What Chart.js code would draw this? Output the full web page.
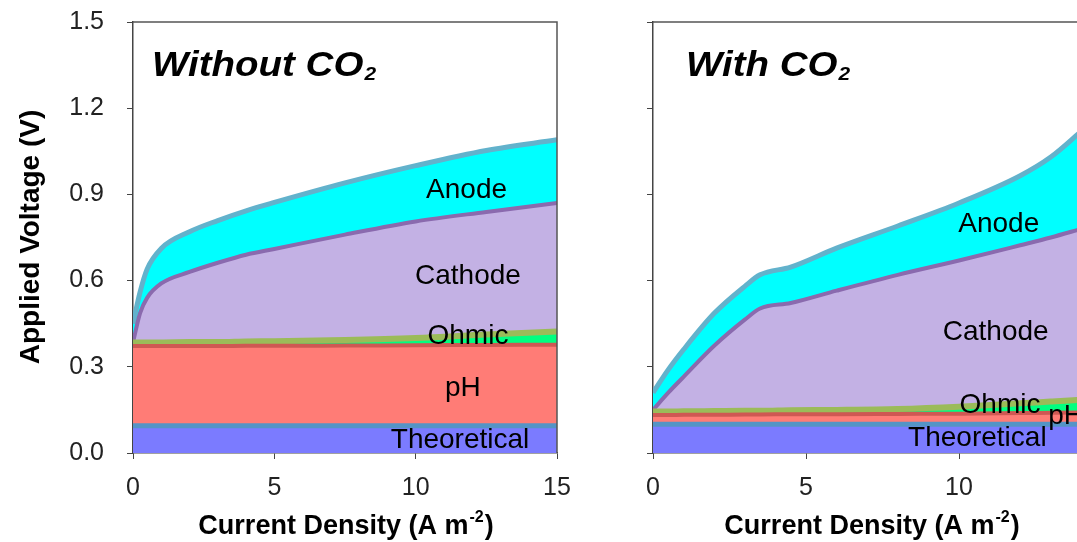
<!DOCTYPE html>
<html>
<head>
<meta charset="utf-8">
<script src="https://cdn.jsdelivr.net/npm/chart.js@4.4.1/dist/chart.umd.min.js"></script>
<style>
  html, body { margin: 0; padding: 0; background: #fff; overflow: hidden; width: 1077px; height: 542px; }
  #left { position: absolute; left: 0; top: 0; width: 580px; height: 542px; }
  #right { position: absolute; left: 600px; top: 0; width: 600px; height: 542px; }
</style>
</head>
<body>
<div id="left"><canvas id="chartLeft"></canvas></div>
<div id="right"><canvas id="chartRight"></canvas></div>
<script>
// Stacked voltage components (V) vs current density (A m-2)
const seriesNames = ["Theoretical", "pH", "Ohmic", "Cathode", "Anode"];

// Without CO2
const noCo2X = [0, 0.25, 0.5, 1, 2, 3, 4, 5, 7.5, 10, 12.5, 15];
const noCo2Theoretical = [0.095, 0.095, 0.095, 0.095, 0.095, 0.095, 0.095, 0.095, 0.095, 0.095, 0.095, 0.095];
const noCo2PH = [0.277, 0.277, 0.277, 0.277, 0.277, 0.277, 0.278, 0.278, 0.279, 0.28, 0.281, 0.282];
const noCo2Ohmic = [0.013, 0.013, 0.013, 0.013, 0.014, 0.014, 0.015, 0.016, 0.019, 0.025, 0.036, 0.046];
const noCo2Cathode = [0, 0.102, 0.155, 0.205, 0.244, 0.276, 0.302, 0.321, 0.367, 0.406, 0.427, 0.447];
const noCo2Anode = [0.065, 0.073, 0.1, 0.122, 0.14, 0.147, 0.153, 0.162, 0.18, 0.194, 0.214, 0.22];

// With CO2
const co2X = [0, 0.5, 1, 2, 3, 3.5, 4.5, 6, 8, 10, 12, 13, 14, 15];
const co2Theoretical = [0.1, 0.1, 0.1, 0.1, 0.1, 0.1, 0.1, 0.1, 0.1, 0.1, 0.1, 0.1, 0.1, 0.1];
const co2PH = [0.032, 0.032, 0.033, 0.033, 0.034, 0.034, 0.035, 0.035, 0.036, 0.037, 0.039, 0.04, 0.041, 0.042];
const co2Ohmic = [0.012, 0.012, 0.012, 0.013, 0.013, 0.013, 0.014, 0.015, 0.017, 0.024, 0.034, 0.039, 0.044, 0.049];
const co2Cathode = [0.006, 0.066, 0.12, 0.227, 0.317, 0.356, 0.373, 0.415, 0.467, 0.509, 0.55, 0.571, 0.595, 0.619];
const co2Anode = [0.06, 0.08, 0.095, 0.113, 0.116, 0.117, 0.125, 0.148, 0.17, 0.2, 0.242, 0.28, 0.34, 0.4];

const xTicks = [0, 5, 10, 15];
const yTicks = [0, 0.3, 0.6, 0.9, 1.2, 1.5];

const fillColors = ["#7b7bff", "#ff7c76", "#00ff80", "#c3b1e4", "#00ffff"];
const lineColors = ["#5494c6", "#cf5853", "#9bbb59", "#8a6aae", "#62b2cc"];
const lineWidths = [5, 4, 6, 4, 5];
const FONT = "'Liberation Sans', Arial, Helvetica, sans-serif";

function buildDatasets(xs, columns) {
  return columns.map((vals, i) => ({
    label: seriesNames[i],
    data: xs.map((x, j) => ({ x, y: vals[j] })),
    fill: i === 0 ? "origin" : "-1",
    backgroundColor: fillColors[i],
    borderColor: lineColors[i],
    borderWidth: lineWidths[i],
    pointRadius: 0,
    cubicInterpolationMode: "monotone",
  }));
}

const panelTextPlugin = {
  id: "panelText",
  afterDraw(chart, args, opts) {
    const { ctx, chartArea: area, scales } = chart;
    ctx.save();

    // top and right edges of the plot frame
    ctx.strokeStyle = "#555";
    ctx.lineWidth = 1.5;
    ctx.beginPath();
    ctx.moveTo(area.left, area.top);
    ctx.lineTo(area.right, area.top);
    ctx.lineTo(area.right, area.bottom);
    ctx.stroke();

    // panel title with subscript 2 (slightly widened like the original)
    ctx.fillStyle = "#000";
    ctx.textAlign = "left";
    ctx.textBaseline = "alphabetic";
    ctx.save();
    ctx.translate(area.left + opts.titleDx, 76);
    ctx.scale(1.1, 1);
    ctx.font = `italic bold 35px ${FONT}`;
    ctx.fillText(opts.title, 0, 0);
    const tw = ctx.measureText(opts.title).width;
    ctx.font = `italic bold 19px ${FONT}`;
    ctx.fillText("2", tw + 1, 4);
    ctx.restore();

    // labels inside the stacked areas
    ctx.font = `28px ${FONT}`;
    ctx.textAlign = "center";
    ctx.textBaseline = "middle";
    opts.labels.forEach((l) => {
      ctx.fillText(l.text, scales.x.getPixelForValue(l.x), scales.y.getPixelForValue(l.y));
    });

    // x axis title with superscript
    const main = "Current Density (A m";
    ctx.textAlign = "left";
    ctx.textBaseline = "alphabetic";
    ctx.font = `bold 27px ${FONT}`;
    const w1 = ctx.measureText(main).width;
    const w3 = ctx.measureText(")").width;
    ctx.font = `bold 16px ${FONT}`;
    const w2 = ctx.measureText("-2").width;
    const x0 = opts.xTitleCx - (w1 + w2 + w3) / 2;
    ctx.font = `bold 27px ${FONT}`;
    ctx.fillText(main, x0, 534);
    ctx.font = `bold 16px ${FONT}`;
    ctx.fillText("-2", x0 + w1 + 1, 522);
    ctx.font = `bold 27px ${FONT}`;
    ctx.fillText(")", x0 + w1 + w2 + 2, 534);

    // y axis title (left panel only)
    if (opts.yTitle) {
      ctx.translate(31, 237);
      ctx.rotate(-Math.PI / 2);
      ctx.textAlign = "center";
      ctx.textBaseline = "middle";
      ctx.font = `bold 28px ${FONT}`;
      ctx.fillText(opts.yTitle, 0, 0);
    }
    ctx.restore();
  },
};

function makeChart(canvasId, xs, columns, cfg) {
  const ctx = document.getElementById(canvasId).getContext("2d");
  return new Chart(ctx, {
    type: "line",
    data: { datasets: buildDatasets(xs, columns) },
    plugins: [panelTextPlugin],
    options: {
      responsive: true,
      maintainAspectRatio: false,
      animation: false,
      events: [],
      layout: { padding: { top: 22, right: cfg.padRight, left: 0, bottom: 0 } },
      plugins: {
        legend: { display: false },
        tooltip: { enabled: false },
        filler: { drawTime: "beforeDatasetsDraw" },
        panelText: cfg.text,
      },
      scales: {
        x: {
          type: "linear",
          min: 0,
          max: 15,
          // fixed axis box, and no extra room for overhanging end labels
          afterFit(s) { s.height = 89; s.paddingLeft = 0; s.paddingRight = 0; },
          afterBuildTicks(s) { s.ticks = xTicks.map((v) => ({ value: v })); },
          ticks: { color: "#222", font: { size: 25, family: FONT }, padding: 14, maxRotation: 0 },
          grid: { drawOnChartArea: false, drawTicks: true, tickLength: 6, color: "#444" },
          border: { display: true, color: "#444", width: 1.5 },
        },
        y: {
          stacked: true,
          min: 0,
          max: 1.5,
          afterFit(s) { s.width = cfg.yWidth; s.paddingTop = 0; s.paddingBottom = 0; },
          afterBuildTicks(s) { s.ticks = yTicks.map((v) => ({ value: v })); },
          ticks: {
            color: "#222",
            font: { size: 25, family: FONT },
            padding: 23,
            callback: (v) => (cfg.yLabels ? Number(v).toFixed(1) : ""),
          },
          grid: { drawOnChartArea: false, drawTicks: true, tickLength: 6, color: "#444" },
          border: { display: true, color: "#444", width: 1.5 },
        },
      },
    },
  });
}

makeChart("chartLeft",
  noCo2X,
  [noCo2Theoretical, noCo2PH, noCo2Ohmic, noCo2Cathode, noCo2Anode],
  {
    padRight: 23,
    yWidth: 133,
    yLabels: true,
    text: {
      title: "Without CO",
      titleDx: 19,
      xTitleCx: 345,
      yTitle: "Applied Voltage (V)",
      labels: [
        { text: "Anode", x: 11.8, y: 0.915 },
        { text: "Cathode", x: 11.85, y: 0.616 },
        { text: "Ohmic", x: 11.85, y: 0.405 },
        { text: "pH", x: 11.67, y: 0.226 },
        { text: "Theoretical", x: 11.57, y: 0.045 },
      ],
    },
  });

makeChart("chartRight",
  co2X,
  [co2Theoretical, co2PH, co2Ohmic, co2Cathode, co2Anode],
  {
    padRight: 88,
    yWidth: 53,
    yLabels: false,
    text: {
      title: "With CO",
      titleDx: 33,
      xTitleCx: 271,
      yTitle: null,
      labels: [
        { text: "Anode", x: 11.3, y: 0.797 },
        { text: "Cathode", x: 11.2, y: 0.421 },
        { text: "Ohmic", x: 11.34, y: 0.167 },
        { text: "pH", x: 13.5, y: 0.129 },
        { text: "Theoretical", x: 10.6, y: 0.052 },
      ],
    },
  });
</script>
</body>
</html>
